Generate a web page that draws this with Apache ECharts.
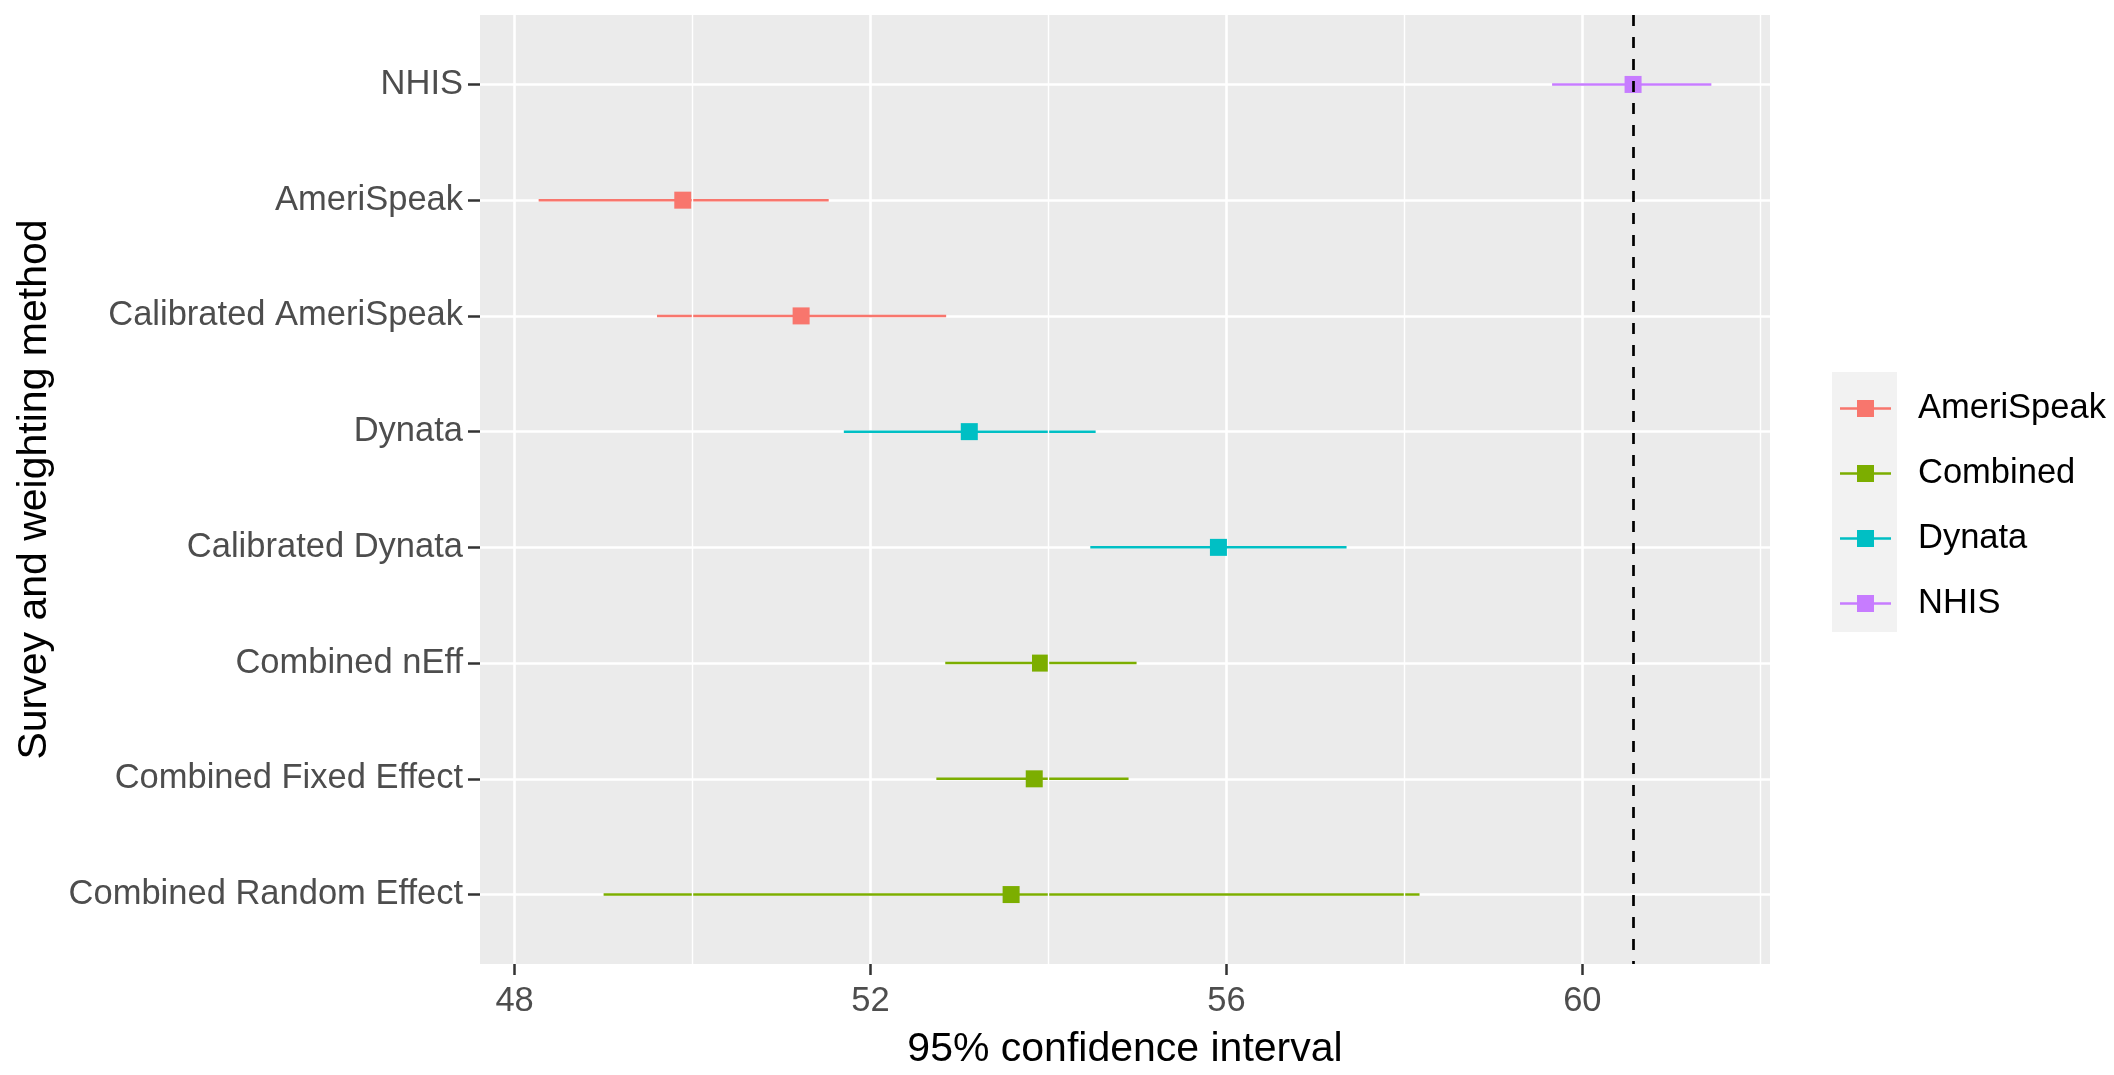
<!DOCTYPE html>
<html>
<head>
<meta charset="utf-8">
<script src="https://cdn.jsdelivr.net/npm/echarts@6/dist/echarts.min.js"></script>
<style>
html,body{margin:0;padding:0;background:#fff;}
#chart{width:2114px;height:1075px;}
</style>
</head>
<body>
<div id="chart"></div>
<script>
// ---- data ----
const categories = ['NHIS', 'AmeriSpeak', 'Calibrated AmeriSpeak', 'Dynata', 'Calibrated Dynata', 'Combined nEff', 'Combined Fixed Effect', 'Combined Random Effect'];
const groupOf = ['NHIS', 'AmeriSpeak', 'AmeriSpeak', 'Dynata', 'Dynata', 'Combined', 'Combined', 'Combined'];
const estimate = [60.57, 49.89, 51.22, 53.11, 55.91, 53.91, 53.84, 53.58];
const lower = [59.66, 48.27, 49.60, 51.70, 54.47, 52.84, 52.74, 49.00];
const upper = [61.45, 51.53, 52.85, 54.53, 57.35, 54.99, 54.90, 58.17];
const legendNames = ['AmeriSpeak', 'Combined', 'Dynata', 'NHIS'];
const xTicks = [48, 52, 56, 60];
const xMinorTicks = [50, 54, 58, 62];
const referenceLine = 60.57;

// ---- styles ----
const palette = {AmeriSpeak: '#F8766D', Combined: '#7CAE00', Dynata: '#00BFC4', NHIS: '#C77CFF'};
const FONT = "'Liberation Sans', Arial, sans-serif";
const SQ = 17;

// ggplot-like 5% expansion
const dMin = Math.min(...lower), dMax = Math.max(...upper);
const pad = (dMax - dMin) * 0.05;
const xMin = dMin - pad, xMax = dMax + pad;

const chart = echarts.init(document.getElementById('chart'), null, {renderer: 'canvas'});

function renderItem(params, api) {
  const y = api.value(3);
  const p0 = api.coord([api.value(0), y]);
  const p1 = api.coord([api.value(2), y]);
  const pc = api.coord([api.value(1), y]);
  const color = api.visual('color');
  return {
    type: 'group',
    children: [
      {type: 'line', shape: {x1: p0[0], y1: p0[1], x2: p1[0], y2: p1[1]}, style: {stroke: color, lineWidth: 2.5}},
      {type: 'rect', shape: {x: pc[0] - SQ / 2, y: pc[1] - SQ / 2, width: SQ, height: SQ}, style: {fill: color}}
    ]
  };
}

const groupSeries = legendNames.map(g => ({
  name: g,
  type: 'custom',
  renderItem: renderItem,
  itemStyle: {color: palette[g]},
  encode: {x: [0, 1, 2], y: 3},
  z: 3,
  data: categories.map((c, i) => groupOf[i] === g ? [lower[i], estimate[i], upper[i], i + 1] : null).filter(d => d)
}));

const yPositions = categories.map((c, i) => i + 1);

const option = {
  backgroundColor: '#ffffff',
  animation: false,
  textStyle: {fontFamily: FONT},
  grid: {left: 480, right: 344, top: 15, bottom: 106, show: true, backgroundColor: '#EBEBEB', borderWidth: 0},
  xAxis: {
    type: 'value',
    min: xMin, max: xMax,
    name: '95% confidence interval',
    nameLocation: 'middle',
    nameGap: 65,
    nameTextStyle: {fontSize: 41, color: '#000', fontFamily: FONT, lineHeight: 41},
    axisLine: {show: false},
    axisTick: {show: true, length: 11, customValues: xTicks, lineStyle: {color: '#333333', width: 2.5}},
    axisLabel: {customValues: xTicks, fontSize: 34.5, color: '#4D4D4D', margin: 20, fontFamily: FONT, lineHeight: 34},
    splitLine: {show: true, lineStyle: {color: '#FFFFFF', width: 2.6}}
  },
  yAxis: {
    type: 'value',
    inverse: true,
    min: 0.4, max: categories.length + 0.6,
    name: 'Survey and weighting method',
    nameLocation: 'middle',
    nameGap: 425,
    nameTextStyle: {fontSize: 41, color: '#000', fontFamily: FONT, lineHeight: 41},
    axisLine: {show: false},
    axisTick: {show: true, length: 12, customValues: yPositions, lineStyle: {color: '#333333', width: 2.5}},
    axisLabel: {
      customValues: yPositions,
      fontSize: 34.5, color: '#4D4D4D', margin: 17, fontFamily: FONT,
      formatter: v => categories[Math.round(v) - 1] || ''
    },
    splitLine: {show: true, lineStyle: {color: '#FFFFFF', width: 2.6}}
  },
  legend: {
    data: legendNames,
    orient: 'vertical',
    left: 1840, top: 391,
    padding: 0,
    itemWidth: 51, itemHeight: 17, itemGap: 30,
    icon: 'path://M0,7.25H51V9.75H0Z M17,0H34V17H17Z',
    itemStyle: {borderWidth: 0},
    textStyle: {fontSize: 34.5, color: '#000000', fontFamily: FONT, lineHeight: 34, padding: [0, 0, 0, 22]},
    selectedMode: false,
    z: 5
  },
  graphic: [{
    type: 'rect', left: 1832, top: 372, z: 1,
    shape: {width: 65, height: 260},
    style: {fill: '#F2F2F2'}
  }],
  series: [
    {
      name: 'minor-grid', type: 'line', data: [], z: 1, silent: true,
      markLine: {
        silent: true, symbol: 'none', label: {show: false}, animation: false,
        lineStyle: {color: '#FFFFFF', width: 1.4, type: 'solid'},
        data: xMinorTicks.map(v => ({xAxis: v}))
      }
    },
    ...groupSeries,
    {
      name: 'reference', type: 'line', data: [], z: 10, silent: true,
      markLine: {
        silent: true, symbol: 'none', label: {show: false}, animation: false,
        lineStyle: {color: '#000000', width: 2.7, type: [11, 11]},
        data: [{xAxis: referenceLine}]
      }
    }
  ]
};
chart.setOption(option);
</script>
</body>
</html>
